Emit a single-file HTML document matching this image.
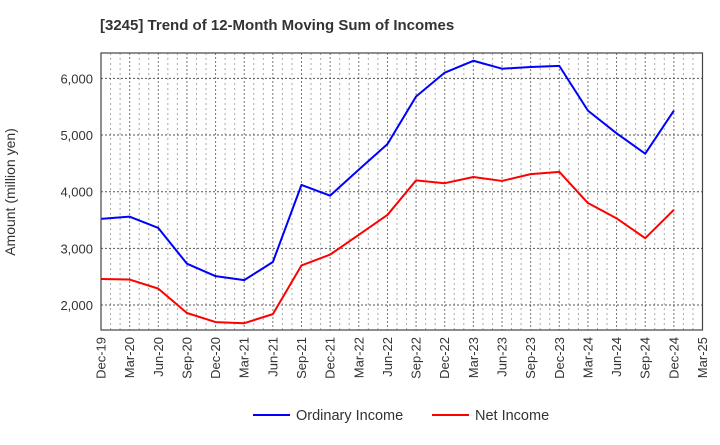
<!DOCTYPE html>
<html><head><meta charset="utf-8"><style>
body{margin:0;background:#fff;font-family:"Liberation Sans",sans-serif}
</style></head><body>
<svg width="720" height="440" xmlns="http://www.w3.org/2000/svg">
<text x="100" y="30" font-size="15" font-weight="bold" fill="#333">[3245]  Trend of 12-Month Moving Sum of Incomes</text>
<g id="grid"></g><g id="ticks"></g><g id="lines"></g>
<rect x="101" y="53" width="601.5" height="277" fill="none" stroke="#444" stroke-width="1.2"/>
<text transform="translate(15,192) rotate(-90)" text-anchor="middle" font-size="14" fill="#333">Amount (million yen)</text>
<g>
<line x1="253" y1="415" x2="290" y2="415" stroke="#0000ff" stroke-width="2"/>
<text x="296" y="420" font-size="14.5" fill="#333">Ordinary Income</text>
<line x1="432" y1="415" x2="469" y2="415" stroke="#ff0000" stroke-width="2"/>
<text x="475" y="420" font-size="14.5" fill="#333">Net Income</text>
</g>
</svg>
<script>
const categories=["Dec-19","Mar-20","Jun-20","Sep-20","Dec-20","Mar-21","Jun-21","Sep-21","Dec-21","Mar-22","Jun-22","Sep-22","Dec-22","Mar-23","Jun-23","Sep-23","Dec-23","Mar-24","Jun-24","Sep-24","Dec-24","Mar-25"];
const ordinaryIncome=[3520,3560,3360,2730,2510,2440,2760,4120,3930,4390,4840,5680,6100,6310,6170,6200,6220,5430,5030,4670,5430];
const netIncome=[2460,2450,2290,1860,1700,1680,1840,2700,2890,3240,3590,4200,4150,4260,4190,4310,4350,3800,3530,3180,3680];
const yTicks=[2000,3000,4000,5000,6000];
const yTickLabels=["2,000","3,000","4,000","5,000","6,000"];
const X0=101,X1=702.5,Y0=330,Y1=53,YMIN=1560,YMAX=6447;
const ns="http://www.w3.org/2000/svg";
function xs(i){return X0+(X1-X0)*i/(categories.length-1);}
function ys(v){return Y0-(v-YMIN)/(YMAX-YMIN)*(Y0-Y1);}
function mk(t,a,p){const e=document.createElementNS(ns,t);for(const k in a)e.setAttribute(k,a[k]);p.appendChild(e);return e;}
const grid=document.getElementById('grid'),ticks=document.getElementById('ticks'),lines=document.getElementById('lines');
const nM=(categories.length-1)*3;
for(let m=1;m<nM;m++){const x=X0+(X1-X0)*m/nM;const maj=m%3==0;
const l=mk('line',{x1:x,x2:x,y1:Y1,y2:Y0,stroke:maj?'#777':'#aaa','stroke-width':1,'stroke-dasharray':maj?'2,2':'2,3'},grid);

}
yTicks.forEach((v,i)=>{const y=ys(v);
const l=mk('line',{x1:X0,x2:X1,y1:y,y2:y,stroke:'#555','stroke-width':1,'stroke-dasharray':'2,2'},grid);


const t=mk('text',{x:93,y:y+5,'text-anchor':'end','font-size':13,fill:'#333'},ticks);t.textContent=yTickLabels[i];

});
categories.forEach((c,i)=>{const x=xs(i);
const t=mk('text',{transform:`translate(${x+4.5},337) rotate(-90)`,'text-anchor':'end','font-size':13,fill:'#333'},ticks);t.textContent=c;

});
function series(d,col,name){const p=mk('polyline',{points:d.map((v,i)=>xs(i)+','+ys(v)).join(' '),fill:'none',stroke:col,'stroke-width':2,'stroke-linejoin':'round'},lines);

}
series(ordinaryIncome,'#0000ff','ordinary-income-line');
series(netIncome,'#ff0000','net-income-line');
</script>
</body></html>
